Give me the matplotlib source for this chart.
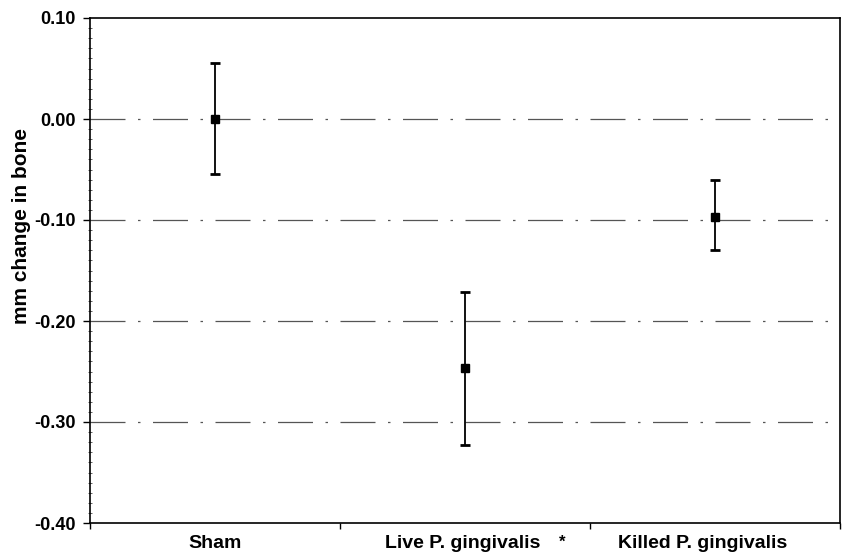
import matplotlib
matplotlib.use("Agg")
import matplotlib.pyplot as plt
from matplotlib.ticker import MultipleLocator, FixedLocator, NullFormatter

categories = ["Sham", "Live P. gingivalis", "Killed P. gingivalis"]
means = [0.000, -0.247, -0.097]
upper = [0.055, -0.171, -0.060]
lower = [-0.054, -0.323, -0.130]
yticks = [0.10, 0.00, -0.10, -0.20, -0.30, -0.40]
ytick_labels = ["0.10", "0.00", "-0.10", "-0.20", "-0.30", "-0.40"]
grid_levels = [0.00, -0.10, -0.20, -0.30]
label_offsets = [0.0, -0.01, -0.05]

plt.rcParams['font.family'] = ['Liberation Sans', 'DejaVu Sans']

fig = plt.figure(figsize=(8.42, 5.56), dpi=100)
ax = fig.add_axes([90/842, 33/556, 750/842, 505/556])

x = list(range(len(categories)))
yerr_lo = [m - l for m, l in zip(means, lower)]
yerr_hi = [u - m for m, u in zip(means, upper)]

for g in grid_levels:
    ax.axhline(g, color="#555555", lw=0.9, linestyle=(0, (28, 10, 2, 10)), zorder=1)

ax.errorbar(x, means, yerr=[yerr_lo, yerr_hi], fmt="s", color="black",
            ecolor="black", elinewidth=1.3, capsize=3.5, capthick=2,
            markersize=6, zorder=3)

ax.set_xlim(-0.5, 2.5)
ax.set_ylim(-0.40, 0.10)
ax.set_yticks(yticks)
ax.set_yticklabels(ytick_labels, fontsize=13, fontweight="bold")
ax.yaxis.set_minor_locator(MultipleLocator(0.01))
ax.tick_params(axis="y", which="major", direction="out", length=5, width=1, pad=5)
ax.tick_params(axis="y", which="minor", direction="inout", length=3, width=0.6,
               color="#444444")

ax.xaxis.set_major_locator(FixedLocator([-0.5, 0.5, 1.5, 2.5]))
ax.xaxis.set_major_formatter(NullFormatter())
ax.tick_params(axis="x", which="major", direction="out", length=4, width=1)
for xi, lab, off in zip(x, categories, label_offsets):
    ax.text(xi + off, -0.024, lab, transform=ax.get_xaxis_transform(), ha="center",
            va="top", fontsize=14, fontweight="bold")
ax.text(1.39, -0.024, "*", transform=ax.get_xaxis_transform(), ha="center", va="top",
        fontsize=12, fontweight="bold")

fig.text(22/842, 1 - 226/556, "mm change in bone", rotation=90, ha="center",
         va="center", fontsize=15, fontweight="bold")

for s in ax.spines.values():
    s.set_linewidth(1.2)
    s.set_color("black")

fig.savefig("out.png", dpi=100)
